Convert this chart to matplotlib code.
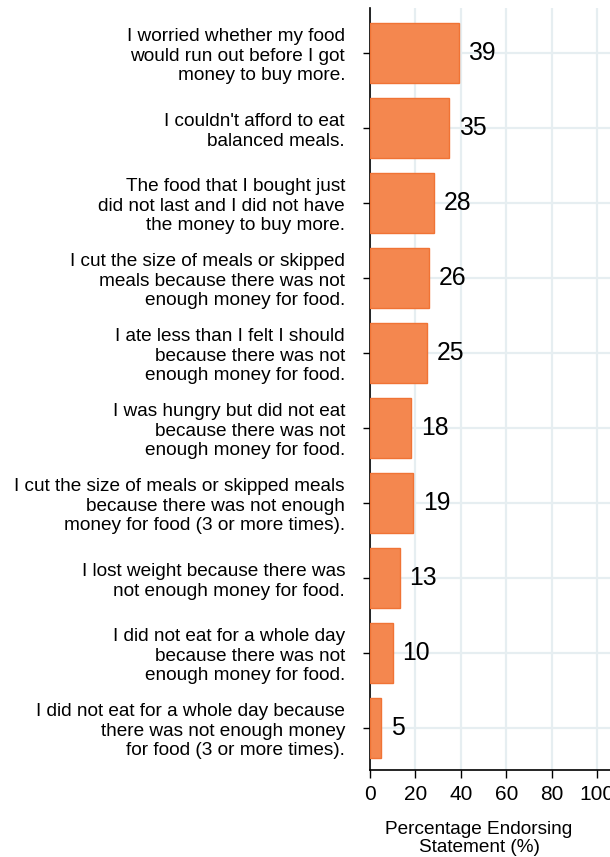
import matplotlib.pyplot as plt

plt.rcParams['font.family'] = ['Liberation Sans', 'DejaVu Sans']

statements = [
    "I worried whether my food\nwould run out before I got\nmoney to buy more.",
    "I couldn't afford to eat\nbalanced meals.",
    "The food that I bought just\ndid not last and I did not have\nthe money to buy more.",
    "I cut the size of meals or skipped\nmeals because there was not\nenough money for food.",
    "I ate less than I felt I should\nbecause there was not\nenough money for food.",
    "I was hungry but did not eat\nbecause there was not\nenough money for food.",
    "I cut the size of meals or skipped meals\nbecause there was not enough\nmoney for food (3 or more times).",
    "I lost weight because there was\nnot enough money for food.",
    "I did not eat for a whole day\nbecause there was not\nenough money for food.",
    "I did not eat for a whole day because\nthere was not enough money\nfor food (3 or more times).",
]
percent = [39, 35, 28, 26, 25, 18, 19, 13, 10, 5]
xticks = [0, 20, 40, 60, 80, 100]

fig = plt.figure(figsize=(6.1, 8.57), dpi=100)
ax = fig.add_axes([370/610, 1 - 770/857, 240/610, (770 - 8)/857])

ypos = list(range(len(percent)))
ax.barh(ypos, percent, height=0.8, color='#F4874F', edgecolor='#F07335', linewidth=1, zorder=3)
for y, v in zip(ypos, percent):
    ax.text(v + 4.3, y, str(v), va='center', ha='left', fontsize=17.8, zorder=4)

ax.set_xlim(0, 105.7)
ax.set_ylim(9.56, -0.6)
ax.set_xticks(xticks)
ax.set_xticklabels([str(t) for t in xticks], fontsize=15)
ax.set_yticks(ypos)
ax.set_yticklabels(statements, fontsize=13.7, linespacing=1.2)
ax.tick_params(axis='y', length=5, pad=13, width=1)
ax.tick_params(axis='x', length=6, pad=5, width=1)

ax.grid(True, color='#E6EEF1', linewidth=1.6, zorder=0)
ax.set_axisbelow(True)
for s in ['top', 'right']:
    ax.spines[s].set_visible(False)
ax.spines['left'].set_linewidth(1.2)
ax.spines['bottom'].set_linewidth(1.2)

ax.set_xlabel("Percentage Endorsing\nStatement (%)", fontsize=13.7, linespacing=1.05)
ax.xaxis.set_label_coords(0.454, -0.067)

fig.savefig('out.png', dpi=100)
